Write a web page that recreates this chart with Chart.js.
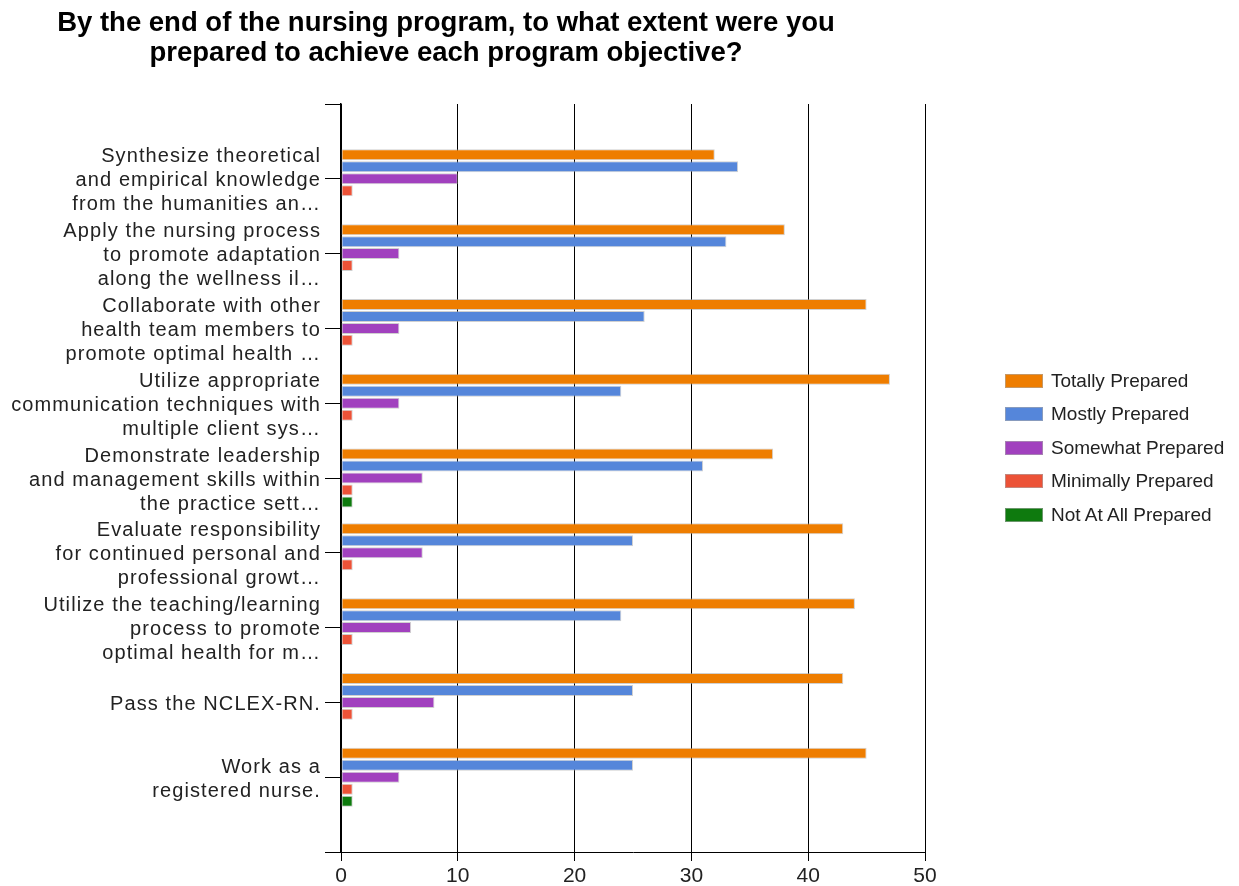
<!DOCTYPE html>
<html>
<head>
<meta charset="utf-8">
<script src="https://cdn.jsdelivr.net/npm/chart.js@4/dist/chart.umd.min.js"></script>
<style>
  html, body { margin: 0; padding: 0; background: #fff; }
  #wrap { position: relative; width: 1239px; height: 886px; }
  #title { position: absolute; left: 0; width: 892px; top: 7px; text-align: center;
    font: bold 27.5px "Liberation Sans", Arial, sans-serif; line-height: 30px; color: #000; }
  #legend { position: absolute; left: 1005px; top: 364px; font: 19px "Liberation Sans", Arial, sans-serif; color: #222; }
  .li { height: 33.5px; display: flex; align-items: center; white-space: nowrap; }
  .sw { width: 36px; height: 12px; margin-right: 8px; border: 1px solid rgba(170,170,170,0.6); }
  canvas { position: absolute; left: 0; top: 0; }
</style>
</head>
<body>
<div id="wrap">
  <canvas id="c" width="1239" height="886"></canvas>
  <div id="title">By the end of the nursing program, to what extent were you<br>prepared to achieve each program objective?</div>
  <div id="legend"></div>
</div>
<script>
const categories = [
  ["Synthesize theoretical", "and empirical knowledge", "from the humanities an\u2026"],
  ["Apply the nursing process", "to promote adaptation", "along the wellness il\u2026"],
  ["Collaborate with other", "health team members to", "promote optimal health \u2026"],
  ["Utilize appropriate", "communication techniques with", "multiple client sys\u2026"],
  ["Demonstrate leadership", "and management skills within", "the practice sett\u2026"],
  ["Evaluate responsibility", "for continued personal and", "professional growt\u2026"],
  ["Utilize the teaching/learning", "process to promote", "optimal health for m\u2026"],
  ["Pass the NCLEX-RN."],
  ["Work as a", "registered nurse."]
];
const seriesNames = ["Totally Prepared", "Mostly Prepared", "Somewhat Prepared", "Minimally Prepared", "Not At All Prepared"];
const totallyPrepared   = [32, 38, 45, 47, 37, 43, 44, 43, 45];
const mostlyPrepared    = [34, 33, 26, 24, 31, 25, 24, 25, 25];
const somewhatPrepared  = [10, 5, 5, 5, 7, 7, 6, 8, 5];
const minimallyPrepared = [1, 1, 1, 1, 1, 1, 1, 1, 1];
const notAtAllPrepared  = [0, 0, 0, 0, 1, 0, 0, 0, 1];
const xTicks = [0, 10, 20, 30, 40, 50];
const colors = ["#EE7D00", "#5586DA", "#A141BE", "#EC5237", "#0E7A0E"];

const seriesValues = [totallyPrepared, mostlyPrepared, somewhatPrepared, minimallyPrepared, notAtAllPrepared];
// pad one empty slot at each end so the axis spans a full extra category
const labels = [""].concat(categories, [""]);
const datasets = seriesValues.map((vals, i) => ({
  label: seriesNames[i],
  data: [null].concat(vals, [null]),
  backgroundColor: colors[i],
  borderColor: "rgba(170,170,170,0.55)",
  borderWidth: c => (c.raw ? 1 : 0),
  borderSkipped: false,
  categoryPercentage: 0.8,
  barPercentage: 0.92
}));

const letterSpacingPlugin = {
  id: "ySpacing",
  beforeDraw(chart) {
    const s = chart.scales.y;
    if (s && !s._lsPatched) {
      const orig = s.drawLabels.bind(s);
      s.drawLabels = function (area) {
        const c = this.ctx;
        c.save();
        try { c.letterSpacing = "1.1px"; } catch (e) {}
        orig(area);
        c.restore();
      };
      s._lsPatched = true;
    }
  }
};

new Chart(document.getElementById("c"), {
  type: "bar",
  data: { labels, datasets },
  plugins: [letterSpacingPlugin],
  options: {
    indexAxis: "y",
    responsive: false,
    animation: false,
    layout: { padding: { top: 104, right: 314, bottom: 0, left: 0 } },
    plugins: { legend: { display: false }, title: { display: false }, tooltip: { enabled: false } },
    scales: {
      x: {
        type: "linear",
        min: xTicks[0],
        max: xTicks[xTicks.length - 1],
        afterBuildTicks: s => { s.ticks = xTicks.map(v => ({ value: v })); },
        afterFit: s => { s.height = 34; },
        grid: { color: "#000", lineWidth: 1, tickLength: 9, drawOnChartArea: true },
        border: { color: "#000", width: 1 },
        ticks: { color: "#222", padding: 3, font: { family: "'Liberation Sans', Arial, sans-serif", size: 21 } }
      },
      y: {
        type: "category",
        offset: false,
        afterFit: s => { s.width = 341; },
        grid: { color: "#000", lineWidth: 1, tickLength: 16, drawOnChartArea: false, offset: false },
        border: { color: "#000", width: 1.5 },
        ticks: {
          autoSkip: false,
          color: "#222",
          padding: 4,
          labelOffset: 2,
          font: { family: "'Liberation Sans', Arial, sans-serif", size: 20, lineHeight: 24 / 20 }
        }
      }
    }
  }
});

const lg = document.getElementById("legend");
seriesNames.forEach((n, i) => {
  const d = document.createElement("div");
  d.className = "li";
  const sw = document.createElement("span");
  sw.className = "sw";
  sw.style.background = colors[i];
  const t = document.createElement("span");
  t.textContent = n;
  d.appendChild(sw);
  d.appendChild(t);
  lg.appendChild(d);
});
</script>
</body>
</html>
